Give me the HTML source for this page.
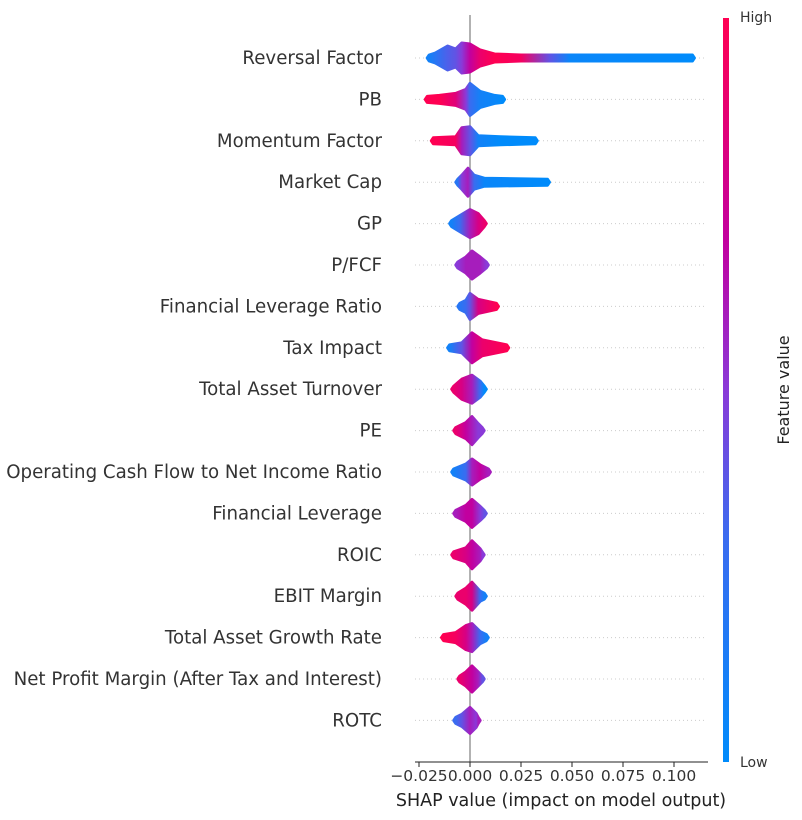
<!DOCTYPE html>
<html><head><meta charset="utf-8"><style>
body{margin:0;background:#fff;}
svg{display:block;font-family:"DejaVu Sans","Liberation Sans",sans-serif;}
</style></head><body>
<svg id="chart" width="802" height="820" viewBox="0 0 802 820" xmlns="http://www.w3.org/2000/svg">
<defs>
<linearGradient id="cbar" x1="0" y1="1" x2="0" y2="0">
<stop offset="0" stop-color="#008bfb"/><stop offset="0.3" stop-color="#3a6cf0"/><stop offset="0.5" stop-color="#8a3ad8"/><stop offset="0.7" stop-color="#c2009f"/><stop offset="1" stop-color="#ff0052"/>
</linearGradient>
</defs>
<g id="grid"></g>
<line x1="470" y1="15" x2="470" y2="762" stroke="#999" stroke-width="1.5"/>
<g id="swarms"></g>
<g id="labels"></g>
<g id="xaxis"></g>
<text x="561" y="806" font-size="17.5" text-anchor="middle" fill="#222">SHAP value (impact on model output)</text>
<rect x="723" y="18" width="6" height="744" fill="url(#cbar)"/>
<text x="740" y="22" font-size="14" fill="#333">High</text>
<text x="740" y="767" font-size="14" fill="#333">Low</text>
<text x="789" y="390" font-size="16" fill="#222" text-anchor="middle" transform="rotate(-90 789 390)">Feature value</text>
</svg>
<script>
const features = ["Reversal Factor","PB","Momentum Factor","Market Cap","GP","P/FCF","Financial Leverage Ratio","Tax Impact","Total Asset Turnover","PE","Operating Cash Flow to Net Income Ratio","Financial Leverage","ROIC","EBIT Margin","Total Asset Growth Rate","Net Profit Margin (After Tax and Interest)","ROTC"];
// SHAP-value knots of density profile for each feature
const shapKnots = [
 [-0.020,-0.017,-0.011,-0.007,-0.004,0,0.005,0.012,0.025,0.039,0.049,0.109],
 [-0.021,-0.015,-0.007,-0.002,0,0.005,0.012,0.016],
 [-0.018,-0.007,-0.004,0,0.004,0.015,0.032],
 [-0.006,-0.004,-0.001,0.002,0.007,0.038],
 [-0.009,-0.005,0,0.004,0.007],
 [-0.006,-0.002,0.001,0.005,0.008],
 [-0.005,-0.002,0,0.004,0.013],
 [-0.010,-0.004,0.001,0.006,0.018],
 [-0.008,-0.004,0.001,0.005,0.007],
 [-0.007,-0.002,0.001,0.004,0.006],
 [-0.008,-0.002,0.001,0.005,0.009],
 [-0.007,-0.002,0.001,0.005,0.007],
 [-0.008,-0.002,0.001,0.005,0.006],
 [-0.006,-0.002,0.001,0.005,0.007],
 [-0.013,-0.007,-0.002,0.001,0.005,0.008],
 [-0.005,-0.002,0.001,0.004,0.006],
 [-0.007,-0.004,0,0.003,0.004]
];
// density (swarm half-height) at each knot
const density = [
 [3,5,12,9,15,14,8,4,3,3,3,3],
 [3,4,6,10,16,8,4,3],
 [3,4,13,14,5,4,3],
 [3,7,14,7,4,3],
 [3,8,14,10,3],
 [3,8,14,8,3],
 [3,6,13,7,3],
 [3,5,15,8,3],
 [3,10,14,8,3],
 [3,8,14,7,3],
 [3,8,13,7,3],
 [3,8,14,7,3],
 [3,7,14,6,3],
 [3,8,14,5,3],
 [3,5,12,14,6,3],
 [3,7,13,7,3],
 [3,6,13,7,3]
];
// mean feature value (0=low,1=high) at each knot
const featureValue = [
 [0.1,0.2,0.35,0.4,0.5,0.7,0.9,1,0.95,0.4,0.05,0],
 [1,1,0.85,0.5,0.3,0.1,0.05,0],
 [1,0.95,0.6,0.4,0.1,0,0],
 [0.2,0.5,0.6,0.3,0.05,0],
 [0.1,0.3,0.6,0.8,0.9],
 [0.5,0.6,0.6,0.6,0.5],
 [0.2,0.3,0.4,0.8,1],
 [0.1,0.4,0.7,0.9,1],
 [0.9,0.8,0.6,0.3,0],
 [0.9,0.7,0.6,0.5,0.5],
 [0.1,0.3,0.6,0.7,0.6],
 [0.6,0.7,0.7,0.5,0.4],
 [0.9,0.8,0.7,0.6,0.5],
 [0.9,0.9,0.8,0.3,0.1],
 [1,0.95,0.8,0.6,0.3,0.1],
 [0.9,0.8,0.7,0.6,0.4],
 [0.3,0.4,0.6,0.5,0.6]
];
const xTicks = [-0.025,0,0.025,0.05,0.075,0.1];
const xTickLabels = ["\u22120.025","0.000","0.025","0.050","0.075","0.100"];

const NS="http://www.w3.org/2000/svg";
const X0=470, XS=2040, Y0=58, DY=41.4;
const xScale=v=>X0+v*XS;
const yScale=i=>Y0+i*DY;
function cmap(t){
  const stops=[[0,[0,139,251]],[0.3,[58,108,240]],[0.5,[138,58,216]],[0.7,[194,0,159]],[1,[255,0,82]]];
  for(let k=1;k<stops.length;k++){ if(t<=stops[k][0]){const a=stops[k-1],b=stops[k];const f=(t-a[0])/(b[0]-a[0]);
    return 'rgb('+a[1].map((c,j)=>Math.round(c+(b[1][j]-c)*f)).join(',')+')';}}
  return 'rgb(255,0,82)';
}
const svg=document.getElementById('chart');
const defs=svg.querySelector('defs');
const grid=document.getElementById('grid'), sw=document.getElementById('swarms'), lab=document.getElementById('labels'), xa=document.getElementById('xaxis');
features.forEach((f,i)=>{
  const y=yScale(i);
  const gl=document.createElementNS(NS,'line');
  gl.setAttribute('x1',415);gl.setAttribute('x2',706);gl.setAttribute('y1',y);gl.setAttribute('y2',y);
  gl.setAttribute('stroke','#ccc');gl.setAttribute('stroke-dasharray','1 3');
  
  
  grid.appendChild(gl);
  const t=document.createElementNS(NS,'text');
  t.setAttribute('x',382);t.setAttribute('y',y+6);t.setAttribute('text-anchor','end');t.setAttribute('font-size','18.2');t.setAttribute('fill','#333');
  t.textContent=f;
  
  
  lab.appendChild(t);
  const xs=shapKnots[i], hs=density[i], cs=featureValue[i];
  const gid='g'+i, g=document.createElementNS(NS,'linearGradient');
  g.setAttribute('id',gid);g.setAttribute('gradientUnits','userSpaceOnUse');
  const x1=xScale(xs[0])-2, x2=xScale(xs[xs.length-1])+2;
  g.setAttribute('x1',x1);g.setAttribute('x2',x2);g.setAttribute('y1',0);g.setAttribute('y2',0);
  xs.forEach((v,k)=>{const s=document.createElementNS(NS,'stop');s.setAttribute('offset',(xScale(v)-x1)/(x2-x1));s.setAttribute('stop-color',cmap(cs[k]));g.appendChild(s);});
  defs.appendChild(g);
  let top=[],bot=[];
  top.push([x1,y]);
  xs.forEach((v,k)=>{top.push([xScale(v),y-hs[k]]);bot.unshift([xScale(v),y+hs[k]]);});
  top.push([x2,y]);
  const p=document.createElementNS(NS,'polygon');
  p.setAttribute('points',top.concat(bot).map(q=>q[0].toFixed(1)+','+q[1].toFixed(1)).join(' '));
  p.setAttribute('fill','url(#'+gid+')');p.setAttribute('stroke','url(#'+gid+')');p.setAttribute('stroke-width','3');p.setAttribute('stroke-linejoin','round');
  
  
  sw.appendChild(p);
});
const al=document.createElementNS(NS,'line');
al.setAttribute('x1',415);al.setAttribute('x2',708);al.setAttribute('y1',762);al.setAttribute('y2',762);al.setAttribute('stroke','#222');al.setAttribute('stroke-width','1');


xa.appendChild(al);
xTicks.forEach((v,k)=>{
  const x=xScale(v);
  const tk=document.createElementNS(NS,'line');
  tk.setAttribute('x1',x);tk.setAttribute('x2',x);tk.setAttribute('y1',762);tk.setAttribute('y2',767);tk.setAttribute('stroke','#222');
  
  
  xa.appendChild(tk);
  const tl=document.createElementNS(NS,'text');
  tl.setAttribute('x',x);tl.setAttribute('y',781);tl.setAttribute('text-anchor','middle');tl.setAttribute('font-size','15.5');tl.setAttribute('fill','#333');
  tl.textContent=xTickLabels[k];
  
  
  xa.appendChild(tl);
});
</script>
</body></html>
